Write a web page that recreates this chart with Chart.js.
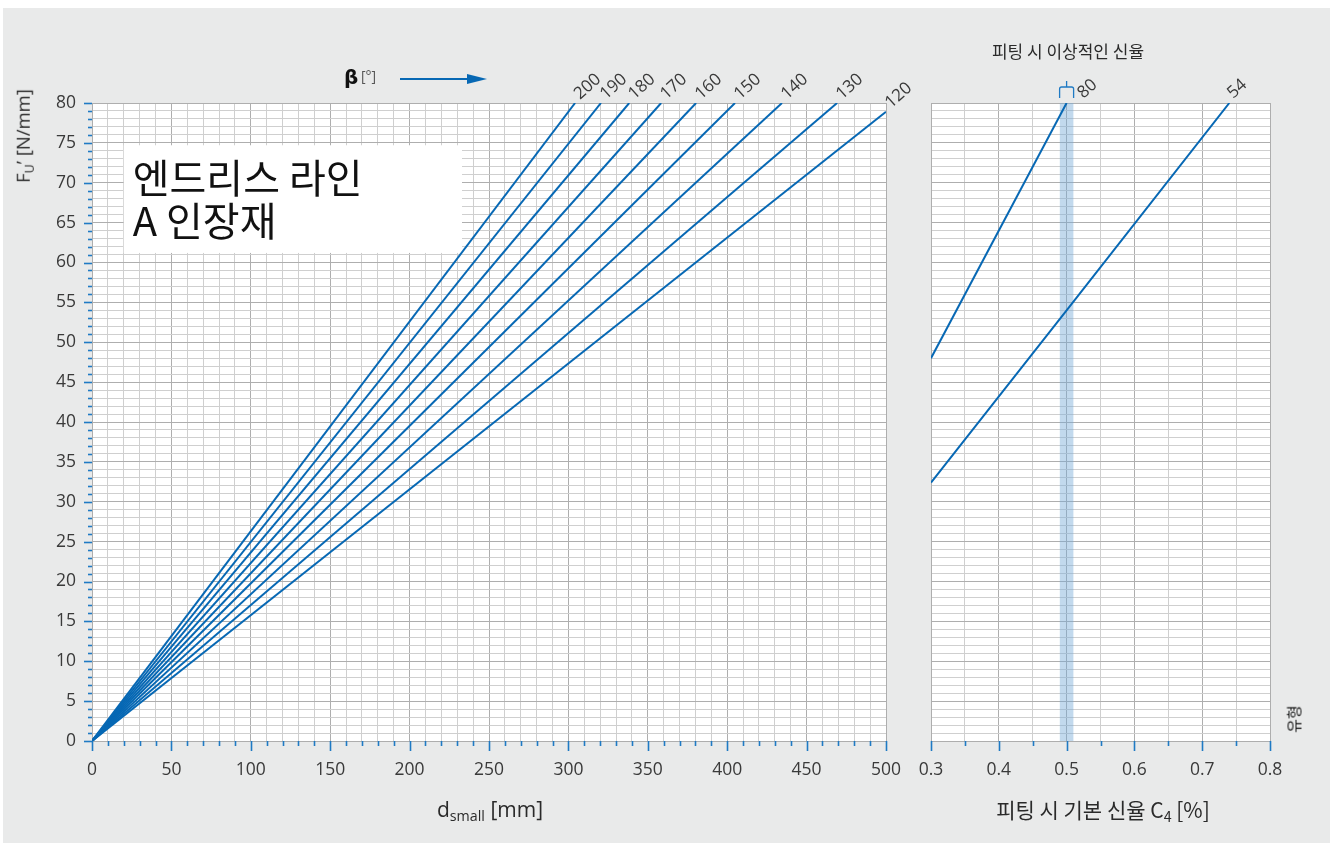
<!DOCTYPE html>
<html>
<head>
<meta charset="utf-8">
<script src="https://cdn.jsdelivr.net/npm/chart.js@4/dist/chart.umd.min.js"></script>
<style>
  html, body { margin: 0; padding: 0; background: #ffffff; }
  #frame { position: absolute; left: 3px; top: 8px; width: 1327px; height: 835px; background: #e9eaea; }
  canvas { position: absolute; top: 0; }
  .t { position: absolute; white-space: nowrap; color: #2a2a2a;
       font-family: "Open Sans", "Noto Sans CJK KR", sans-serif; line-height: 1; }
  .kr { font-family: "Noto Sans CJK KR", "Noto Sans", sans-serif; }
  .c { transform: translate(-50%, -50%); }
  sub { font-size: 0.68em; vertical-align: -0.3em; line-height: 0; }
</style>
</head>
<body>
<div id="frame"></div>
<canvas id="rightChart" width="434" height="846" style="left:900px"></canvas>
<canvas id="leftChart" width="930" height="846" style="left:0"></canvas>

<div class="t c" style="left:490px; top:809px; font-size:21px;">d<sub>small</sub> [mm]</div>
<div class="t c kr" style="left:1103px; top:809px; font-size:21px;">피팅 시 기본 신율 C<sub>4</sub> [%]</div>
<div class="t c kr" style="left:1068px; top:50px; font-size:17px;">피팅 시 이상적인 신율</div>
<div class="t c" style="left:23px; top:136px; font-size:18.5px; transform: translate(-50%,-50%) rotate(-90deg);">F<sub>U</sub>’ [N/mm]</div>
<div class="t c kr" style="left:1293px; top:719px; font-size:15px; color:#111; transform: translate(-50%,-50%) rotate(-90deg);">유형</div>

<script>
// ---- left panel: circumferential force vs. small pulley diameter, one line per wrap angle β ----
const betaAngles = [200, 190, 180, 170, 160, 150, 140, 130, 120];   // β [°]
const endDiameter = [304.2, 320.5, 338.3, 358.4, 380.4, 404.9, 434.5, 469.2, 500]; // d_small at line end [mm]
const endForce = [80, 80, 80, 80, 80, 80, 80, 80, 78.9];            // F_U' at line end [N/mm]

// ---- right panel: force vs. basic elongation C4 for each belt type ----
const typeLabels = ['80', '54'];
const c4Type80 = [0.3, 0.5];
const force80 = [48, 80];
const c4Type54 = [0.3, 0.5, 0.74];
const force54 = [32.4, 54, 80];
const idealBand = [0.49, 0.51];   // ideal fitting elongation range

// title box on the left panel (data coordinates)
const boxX = [20, 233];
const boxY = [61.2, 74.7];
const boxLines = ['엔드리스 라인', 'A 인장재'];

const BLUE = '#0768b4';
const TICK_BLUE = '#1f7ac4';
const GRID_LIGHT = '#cfcfcf';
const GRID_DARK = '#aeaeae';
const LABEL = '#3a3a3a';
const FONT = '"Open Sans", "Noto Sans", sans-serif';

const lineStyle = { borderColor: BLUE, borderWidth: 2, pointRadius: 0, fill: false, tension: 0 };

const leftDatasets = betaAngles.map((b, i) => ({
  label: String(b),
  data: [{ x: 0, y: 0 }, { x: endDiameter[i], y: endForce[i] }],
  ...lineStyle
}));

const rightDatasets = [
  { label: typeLabels[0], data: c4Type80.map((c, i) => ({ x: c, y: force80[i] })), ...lineStyle },
  { label: typeLabels[1], data: c4Type54.map((c, i) => ({ x: c, y: force54[i] })), ...lineStyle }
];

function isMult(v, step) {
  const r = v / step;
  return Math.abs(r - Math.round(r)) < 1e-6;
}

function drawTicks(ctx, scale, majorStep, minorLen, majorLen, axisPos, vertical) {
  ctx.save();
  ctx.strokeStyle = TICK_BLUE;
  ctx.lineWidth = 1.6;
  scale.ticks.forEach(t => {
    const p = Math.round(scale.getPixelForValue(t.value)) + 0.5;
    const len = isMult(t.value, majorStep) ? majorLen : minorLen;
    ctx.beginPath();
    if (vertical) { ctx.moveTo(axisPos, p); ctx.lineTo(axisPos - len, p); }
    else { ctx.moveTo(p, axisPos); ctx.lineTo(p, axisPos + len); }
    ctx.stroke();
  });
  ctx.restore();
}

function rotatedLabel(ctx, text, x, y) {
  ctx.save();
  ctx.translate(x, y);
  ctx.rotate(-42 * Math.PI / 180);
  ctx.fillStyle = LABEL;
  ctx.font = '17px ' + FONT;
  ctx.textAlign = 'left';
  ctx.textBaseline = 'alphabetic';
  ctx.fillText(text, 0, 0);
  ctx.restore();
}

// white plotting field behind the grid
const whiteArea = {
  id: 'whiteArea',
  beforeDraw(chart) {
    const { ctx, chartArea: a } = chart;
    ctx.save();
    ctx.fillStyle = '#ffffff';
    ctx.fillRect(a.left, a.top, a.right - a.left, a.bottom - a.top);
    ctx.restore();
  }
};

const leftDecor = {
  id: 'leftDecor',
  beforeDatasetsDraw(chart) {
    const { ctx, scales: { x, y } } = chart;
    const x0 = x.getPixelForValue(boxX[0]), x1 = x.getPixelForValue(boxX[1]);
    const y0 = y.getPixelForValue(boxY[1]), y1 = y.getPixelForValue(boxY[0]);
    ctx.save();
    ctx.fillStyle = '#ffffff';
    ctx.fillRect(x0, y0, x1 - x0, y1 - y0);
    ctx.fillStyle = '#111111';
    ctx.font = '40px "Noto Sans CJK KR", sans-serif';
    ctx.textBaseline = 'middle';
    ctx.fillText(boxLines[0], x0 + 9, y0 + 33);
    ctx.fillText(boxLines[1], x0 + 9, y0 + 76);
    ctx.restore();
  },
  afterDraw(chart) {
    const { ctx, scales: { x, y }, chartArea } = chart;
    drawTicks(ctx, y, 5, 4, 8, chartArea.left, true);
    drawTicks(ctx, x, 50, 5, 10, chartArea.bottom, false);
    // β labels at the upper end of each line
    chart.data.datasets.forEach(ds => {
      const end = ds.data[ds.data.length - 1];
      rotatedLabel(ctx, ds.label, x.getPixelForValue(end.x) + 5, y.getPixelForValue(end.y) - 3);
    });
    // β [°] heading with arrow
    ctx.save();
    ctx.fillStyle = '#111';
    ctx.font = 'bold 20px "DejaVu Sans", sans-serif';
    ctx.textBaseline = 'middle';
    ctx.fillText('β', 344, 79);
    ctx.fillStyle = '#555';
    ctx.font = '14px ' + FONT;
    ctx.fillText('[°]', 361, 77);
    ctx.strokeStyle = BLUE;
    ctx.lineWidth = 2;
    ctx.beginPath(); ctx.moveTo(400, 79); ctx.lineTo(470, 79); ctx.stroke();
    ctx.fillStyle = BLUE;
    ctx.beginPath(); ctx.moveTo(467, 74); ctx.lineTo(487, 79); ctx.lineTo(467, 84); ctx.closePath(); ctx.fill();
    ctx.restore();
  }
};

const rightDecor = {
  id: 'rightDecor',
  beforeDatasetsDraw(chart) {
    const { ctx, scales: { x }, chartArea } = chart;
    const b0 = x.getPixelForValue(idealBand[0]), b1 = x.getPixelForValue(idealBand[1]);
    ctx.save();
    ctx.fillStyle = 'rgba(120, 170, 215, 0.45)';
    ctx.fillRect(b0, chartArea.top, b1 - b0, chartArea.bottom - chartArea.top);
    ctx.restore();
  },
  afterDraw(chart) {
    const { ctx, scales: { x, y }, chartArea } = chart;
    drawTicks(ctx, x, 0.1, 5, 10, chartArea.bottom, false);
    // bracket above the ideal band
    const cx = x.getPixelForValue((idealBand[0] + idealBand[1]) / 2);
    ctx.save();
    ctx.strokeStyle = TICK_BLUE;
    ctx.lineWidth = 1.3;
    ctx.beginPath();
    ctx.moveTo(cx, 81); ctx.lineTo(cx, 87);
    ctx.moveTo(cx - 7, 98); ctx.lineTo(cx - 7, 89); ctx.quadraticCurveTo(cx - 7, 87, cx - 5, 87);
    ctx.lineTo(cx + 5, 87); ctx.quadraticCurveTo(cx + 7, 87, cx + 7, 89); ctx.lineTo(cx + 7, 98);
    ctx.stroke();
    ctx.restore();
    // type labels at the upper end of each line
    const offsets = [17, 4];
    chart.data.datasets.forEach((ds, i) => {
      const end = ds.data[ds.data.length - 1];
      rotatedLabel(ctx, ds.label, x.getPixelForValue(end.x) + offsets[i], y.getPixelForValue(end.y) - 4);
    });
  }
};

function gridColor(step) {
  return c => isMult(c.tick.value, step) ? GRID_DARK : GRID_LIGHT;
}

// fixed axis sizes; label overflow must not shrink the plotting field
function fixSize(w, h) {
  return s => {
    if (w !== null) s.width = w;
    if (h !== null) s.height = h;
    s.paddingLeft = 0; s.paddingRight = 0; s.paddingTop = 0; s.paddingBottom = 0;
  };
}

const common = {
  responsive: false,
  animation: false,
  events: [],
  plugins: { legend: { display: false }, tooltip: { enabled: false } }
};

const tickFont = { family: FONT, size: 17.5 };

new Chart(document.getElementById('leftChart'), {
  type: 'line',
  data: { datasets: leftDatasets },
  options: {
    ...common,
    layout: { padding: { top: 103, right: 44, left: 0, bottom: 0 } },
    scales: {
      x: {
        type: 'linear', min: 0, max: 500,
        ticks: { stepSize: 10, autoSkip: false, maxRotation: 0, padding: 19, color: LABEL, font: tickFont,
                 callback: v => isMult(v, 50) ? String(v) : '' },
        grid: { color: gridColor(50), drawTicks: false, lineWidth: 1 },
        border: { color: GRID_DARK },
        afterFit: fixSize(null, 105)
      },
      y: {
        type: 'linear', min: 0, max: 80,
        ticks: { stepSize: 1, autoSkip: false, padding: 16, color: LABEL, font: tickFont,
                 callback: v => isMult(v, 5) ? String(v) : '' },
        grid: { color: gridColor(5), drawTicks: false, lineWidth: 1 },
        border: { color: GRID_DARK },
        afterFit: fixSize(92, null)
      }
    }
  },
  plugins: [whiteArea, leftDecor]
});

new Chart(document.getElementById('rightChart'), {
  type: 'line',
  data: { datasets: rightDatasets },
  options: {
    ...common,
    layout: { padding: { top: 103, right: 64, left: 31, bottom: 0 } },
    scales: {
      x: {
        type: 'linear', min: 0.3, max: 0.8,
        ticks: { stepSize: 0.05, autoSkip: false, maxRotation: 0, padding: 19, color: LABEL, font: tickFont,
                 callback: v => isMult(v, 0.1) ? v.toFixed(1) : '' },
        grid: { color: gridColor(0.1), drawTicks: false, lineWidth: 1 },
        border: { color: GRID_DARK },
        afterFit: fixSize(null, 105)
      },
      y: {
        type: 'linear', min: 0, max: 80,
        ticks: { stepSize: 1, display: false },
        grid: { color: gridColor(5), drawTicks: false, lineWidth: 1 },
        border: { color: GRID_DARK },
        afterFit: fixSize(0, null)
      }
    }
  },
  plugins: [whiteArea, rightDecor]
});
</script>
</body>
</html>
